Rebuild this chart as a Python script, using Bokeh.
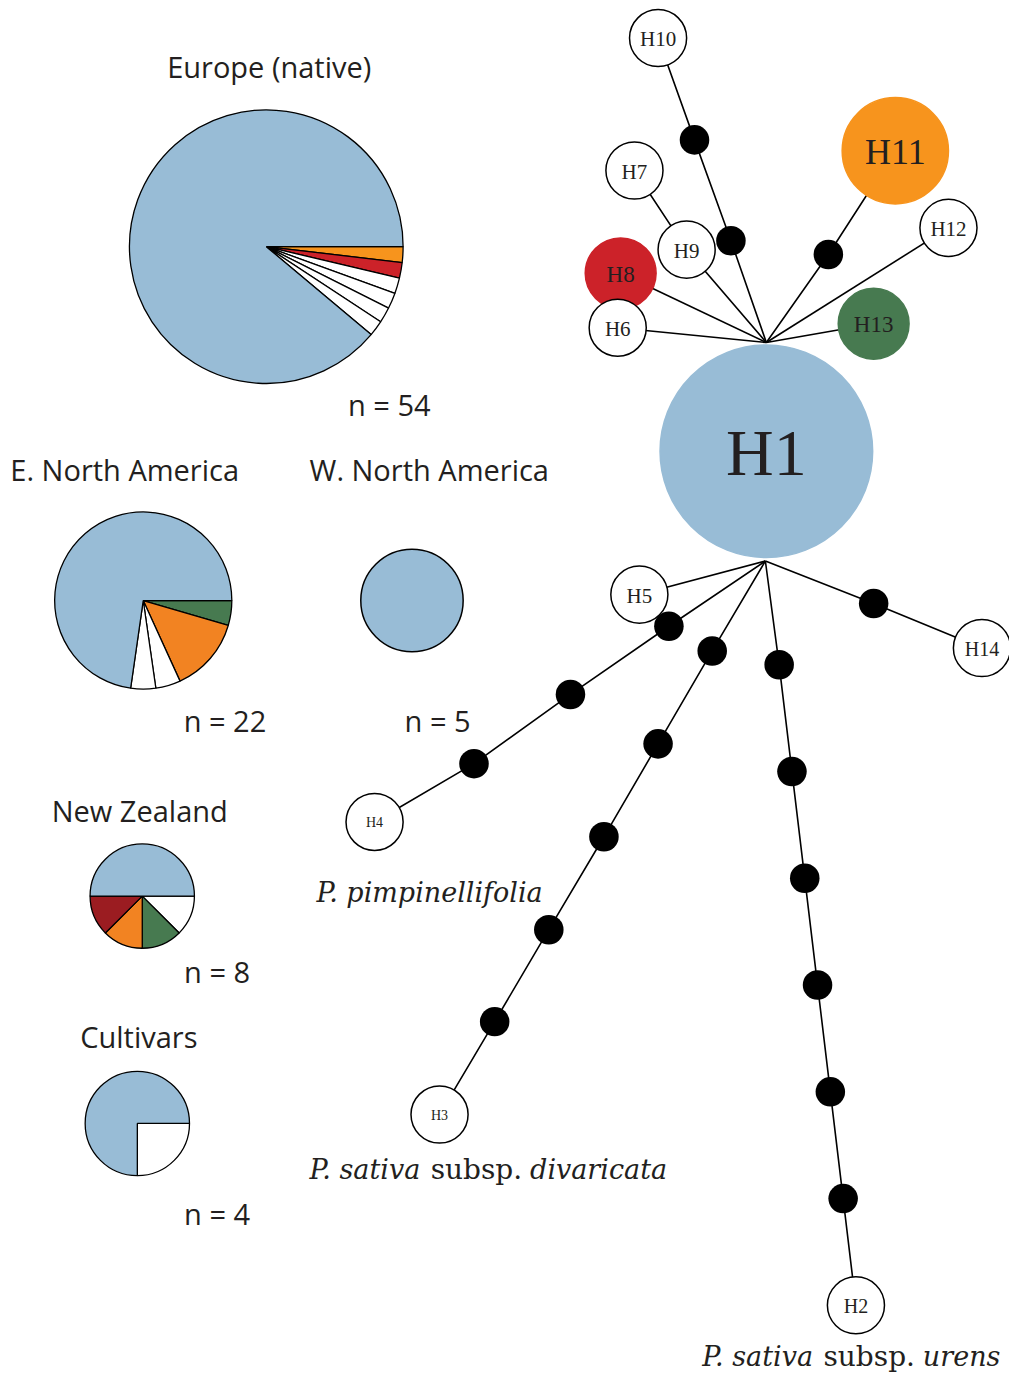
import math
from bokeh.plotting import figure
from bokeh.models import Range1d, ColumnDataSource
from bokeh.core.properties import value
from bokeh.embed import file_html
from bokeh.resources import INLINE

# ---------------- colours ----------------
BLUE = "#98bcd6"
ORANGE = "#f7941d"
ORANGE2 = "#f28322"
RED = "#cc2229"
DRED = "#9b1c21"
GREEN = "#477a50"
WHITE = "#ffffff"
INK = "#231f20"

# ---------------- pie data (counts clockwise from 3 o'clock) ----------------
pie_names = ["Europe (native)", "E. North America", "W. North America", "New Zealand", "Cultivars"]
pie_n = [54, 22, 5, 8, 4]
europe_counts = [1, 1, 1, 1, 1, 1, 48]
europe_colors = [ORANGE, RED, WHITE, WHITE, WHITE, WHITE, BLUE]
ena_counts = [1, 3, 1, 1, 16]
ena_colors = [GREEN, ORANGE2, WHITE, WHITE, BLUE]
wna_counts = [5]
wna_colors = [BLUE]
nz_counts = [1, 1, 1, 1, 4]
nz_colors = [WHITE, GREEN, ORANGE2, DRED, BLUE]
cult_counts = [1, 3]
cult_colors = [WHITE, BLUE]

# pie layout
pie_x = [270, 145, 418, 144, 139]
pie_y = [249, 607, 607, 906, 1136]
pie_r = [139, 90, 52, 53, 53]
title_x = [273, 10, 314, 52, 81]
title_y = [67, 474, 474, 819, 1048]
title_align = ["center", "left", "left", "left", "left"]
n_x = [395, 228, 444, 220, 220]
n_y = [409, 728, 728, 982, 1227]

# ---------------- haplotype network ----------------
hap_names = ["H1", "H2", "H3", "H4", "H5", "H6", "H7", "H8", "H9", "H10", "H11", "H12", "H13", "H14"]
hap_x = [778, 869, 446, 380, 649, 627, 644, 630, 697, 668, 909, 963, 887, 997]
hap_y = [456, 1320, 1127, 831, 601, 331, 172, 276, 252, 38, 152, 230, 327, 655]
hap_r = [108, 29, 29, 29, 29, 29, 29, 36, 29, 29, 54, 29, 36, 29]
hap_fill = [BLUE, WHITE, WHITE, WHITE, WHITE, WHITE, WHITE, RED, WHITE, WHITE, ORANGE, WHITE, GREEN, WHITE]
hap_font = ["66px", "20px", "14px", "14px", "21px", "21px", "21px", "23px", "21px", "21px", "36px", "21px", "23px", "20px"]

# missing intermediate haplotypes (black dots)
mv_x = [742, 705, 841, 679, 579, 481, 723, 668, 613, 557, 502, 791, 804, 817, 830, 843, 856, 887]
mv_y = [243, 141, 257, 633, 702, 772, 658, 752, 846, 940, 1033, 672, 780, 888, 996, 1104, 1212, 610]

hub_top = (778, 346)
hub_bot = (777, 567)

def hp(name):
    i = hap_names.index(name)
    return (hap_x[i], hap_y[i])

def mv(i):
    return (mv_x[i], mv_y[i])

edges = [
    [hub_top, mv(0), mv(1), hp("H10")],
    [hub_top, hp("H9"), hp("H7")],
    [hub_top, hp("H8")],
    [hub_top, hp("H6")],
    [hub_top, mv(2), hp("H11")],
    [hub_top, hp("H12")],
    [hub_top, hp("H13")],
    [hub_bot, hp("H5")],
    [hub_bot, mv(3), mv(4), mv(5), hp("H4")],
    [hub_bot, mv(6), mv(7), mv(8), mv(9), mv(10), hp("H3")],
    [hub_bot, mv(11), mv(12), mv(13), mv(14), mv(15), mv(16), hp("H2")],
    [hub_bot, mv(17), hp("H14")],
]

# ---------------- figure ----------------
W, H = 1009, 1377
p = figure(width=W, height=H, x_range=Range1d(0, 1025), y_range=Range1d(1393, 0),
           output_backend="svg", toolbar_location=None, min_border=0)
p.axis.visible = False
p.grid.visible = False
p.outline_line_color = None
p.background_fill_color = "white"
p.border_fill_color = "white"

# pies
all_counts = [europe_counts, ena_counts, wna_counts, nz_counts, cult_counts]
all_colors = [europe_colors, ena_colors, wna_colors, nz_colors, cult_colors]
for k in range(len(pie_names)):
    counts = all_counts[k]
    cols = all_colors[k]
    tot = sum(counts)
    if len(counts) == 1:
        p.circle(x=[pie_x[k]], y=[pie_y[k]], radius=pie_r[k], fill_color=cols[0],
                 line_color="black", line_width=1.5)
        continue
    cum = 0
    xs, ys, st, en, fc = [], [], [], [], []
    for c, col in zip(counts, cols):
        a0 = cum / tot * 2 * math.pi
        cum += c
        a1 = cum / tot * 2 * math.pi
        xs.append(pie_x[k]); ys.append(pie_y[k])
        st.append(-a1); en.append(-a0); fc.append(col)
    src = ColumnDataSource(dict(x=xs, y=ys, s=st, e=en, fc=fc))
    p.wedge(x="x", y="y", radius=pie_r[k], start_angle="s", end_angle="e",
            fill_color="fc", line_color="black", line_width=1.3, source=src)

sans = value("Open Sans")
for tx, ty, tt, ta in zip(title_x, title_y, pie_names, title_align):
    p.text(x=[tx], y=[ty], text=[tt], text_font=sans, text_font_size="29px",
           text_align=ta, text_baseline="alphabetic", text_color=INK)
p.text(x=n_x, y=n_y, text=["n = %d" % n for n in pie_n], text_font=sans,
       text_font_size="29px", text_align="center", text_baseline="alphabetic", text_color=INK)

# network edges
p.multi_line(xs=[[pt[0] for pt in e] for e in edges], ys=[[pt[1] for pt in e] for e in edges],
             line_color="black", line_width=1.6)

# black dots
p.circle(x=mv_x, y=mv_y, radius=15, fill_color="black", line_color=None)

# haplotype circles (H1 and H8 first, so H6 overlaps H8)
order = [0, 7] + [i for i in range(len(hap_names)) if i not in (0, 7)]
osrc = ColumnDataSource(dict(
    x=[hap_x[i] for i in order], y=[hap_y[i] for i in order], r=[hap_r[i] for i in order],
    fc=[hap_fill[i] for i in order],
    lc=["black" if hap_fill[i] == WHITE else hap_fill[i] for i in order],
    name=[hap_names[i] for i in order], fs=[hap_font[i] for i in order]))
p.circle(x="x", y="y", radius="r", fill_color="fc", line_color="lc", line_width=1.5, source=osrc)
p.text(x="x", y="y", text="name", text_font=value("Liberation Serif"), text_font_size="fs",
       text_align="center", text_baseline="middle", text_color=INK, source=osrc, y_offset=1)

# species labels (segments)
sp_text = ["P. pimpinellifolia", "P. sativa", "subsp.", "divaricata", "P. sativa", "subsp.", "urens"]
sp_x = [321, 314, 437, 538, 713, 836, 937]
sp_y = [902, 1183, 1183, 1183, 1372, 1372, 1372]
sp_style = ["italic", "italic", "normal", "italic", "italic", "normal", "italic"]
sp_size = ["27px", "27px", "28px", "27px", "27px", "28px", "27px"]
for t, x, y, s, fsz in zip(sp_text, sp_x, sp_y, sp_style, sp_size):
    p.text(x=[x], y=[y], text=[t], text_font=value("DejaVu Serif"), text_font_size=fsz,
           text_font_style=s, text_align="left", text_baseline="alphabetic", text_color=INK)

open("out.html", "w").write(file_html(p, INLINE))
